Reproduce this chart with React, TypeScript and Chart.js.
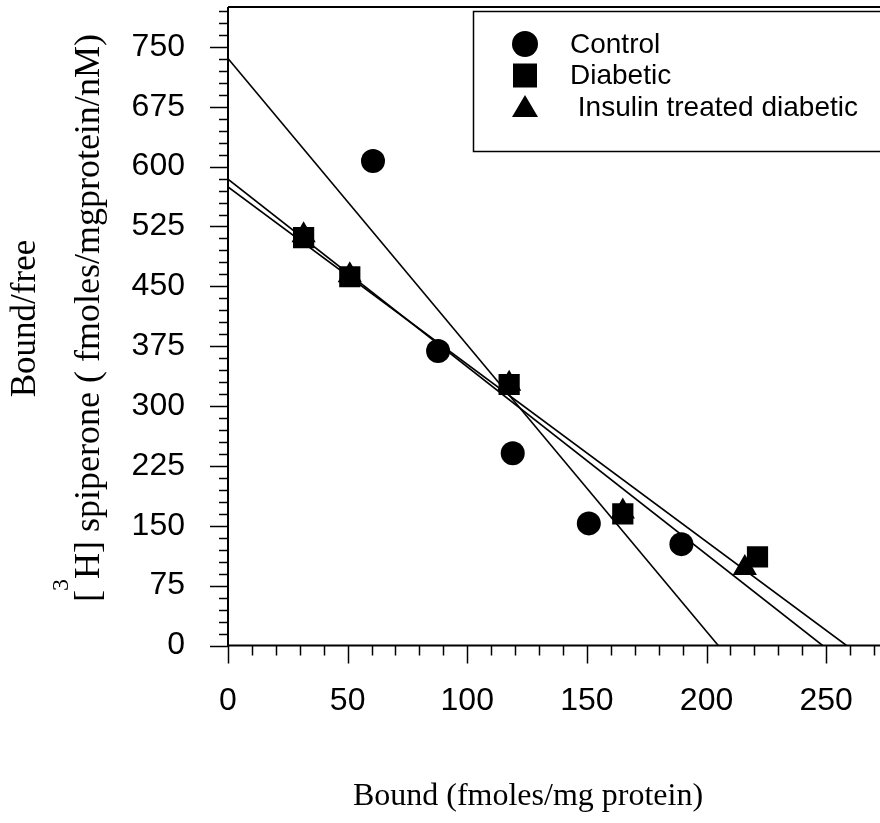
import React, { useEffect, useRef } from "react";
import { Chart, registerables } from "chart.js";

Chart.register(...registerables);

// ---- data ----
const seriesLabels = ["Control", "Diabetic", " Insulin treated diabetic"];

const controlX = [60.6, 87.8, 119, 150.8, 189.5];
const controlY = [607, 369, 241, 153, 127];

const diabeticX = [31.6, 50.9, 117.5, 165, 221.3];
const diabeticY = [511, 462, 327, 165, 111];

const insulinX = [31.6, 50.9, 117.5, 165, 216];
const insulinY = [514, 464, 328, 168, 97];

// regression lines (endpoints on the axes)
const controlFitX = [0, 204.9];
const controlFitY = [735.5, 0];
const diabeticFitX = [0, 258.5];
const diabeticFitY = [574.6, 0];
const insulinFitX = [0, 248.5];
const insulinFitY = [584.3, 0];

const xMajorTicks = [0, 50, 100, 150, 200, 250];
const yMajorTicks = [0, 75, 150, 225, 300, 375, 450, 525, 600, 675, 750];
const xMinorStep = 10;
const yMinorStep = 15;
const xMax = 272.5;
const yMax = 800;

const xTitle = "Bound (fmoles/mg protein)";
const yTitleLine1 = "Bound/free";
const yTitleBracket = "[";
const yTitleSup = "3";
const yTitleRest = "H] spiperone ( fmoles/mgprotein/nM)";

const toPts = (xs: number[], ys: number[]) => xs.map((x, i) => ({ x, y: ys[i] }));

const SANS = "'Liberation Sans', Arial, Helvetica, sans-serif";
const SERIF = "'Liberation Serif', 'Times New Roman', Times, serif";

const framePlugin = {
  id: "framePlugin",
  afterDraw(chart: any) {
    const { ctx, chartArea, scales } = chart;
    const xs = scales.x;
    const ys = scales.y;
    const left = chartArea.left;
    const bottom = chartArea.bottom;
    const top = chartArea.top;
    const right = chartArea.right;
    ctx.save();
    ctx.strokeStyle = "#000";
    ctx.lineWidth = 2;
    ctx.beginPath();
    ctx.moveTo(left, top);
    ctx.lineTo(left, bottom);
    ctx.lineTo(right + 2, bottom);
    ctx.moveTo(left, top);
    ctx.lineTo(right + 2, top);
    ctx.stroke();

    ctx.lineWidth = 1.5;
    ctx.beginPath();
    for (let v = 0; v <= yMax; v += yMinorStep) {
      const py = Math.round(ys.getPixelForValue(v)) + 0.5;
      const len = v % 75 === 0 ? 18 : 9;
      ctx.moveTo(left - len, py);
      ctx.lineTo(left, py);
    }
    for (let v = 0; v <= xMax; v += xMinorStep) {
      const px = Math.round(xs.getPixelForValue(v)) + 0.5;
      const len = v % 50 === 0 ? 18 : 10;
      ctx.moveTo(px, bottom);
      ctx.lineTo(px, bottom + len);
    }
    ctx.stroke();

    // legend box
    ctx.lineWidth = 1.5;
    ctx.strokeRect(473.5, 11.5, 420, 140);
    const rowY = [44, 75.5, 107];
    const mx = 525;
    ctx.fillStyle = "#000";
    chart.data.datasets.slice(0, 3).forEach((ds: any, i: number) => {
      const y = rowY[i];
      ctx.beginPath();
      if (ds.pointStyle === "circle") {
        ctx.arc(mx, y, 13, 0, Math.PI * 2);
      } else if (ds.pointStyle === "rect") {
        ctx.rect(mx - 12, y - 12, 24, 24);
      } else {
        ctx.moveTo(mx, y - 12);
        ctx.lineTo(mx + 13, y + 10);
        ctx.lineTo(mx - 13, y + 10);
        ctx.closePath();
      }
      ctx.fill();
      ctx.font = `28px ${SANS}`;
      ctx.textBaseline = "middle";
      ctx.textAlign = "left";
      ctx.fillText(ds.label, 570, y + 1);
    });

    // x title
    ctx.font = `32px ${SERIF}`;
    ctx.textAlign = "center";
    ctx.textBaseline = "alphabetic";
    ctx.fillText(xTitle, 528, 805);

    // y title line 1
    ctx.save();
    ctx.translate(35, 318.5);
    ctx.rotate(-Math.PI / 2);
    ctx.font = `35px ${SERIF}`;
    ctx.textAlign = "center";
    ctx.fillText(yTitleLine1, 0, 0);
    ctx.restore();

    // y title line 2 with superscript
    ctx.save();
    ctx.translate(99, 602);
    ctx.rotate(-Math.PI / 2);
    ctx.textAlign = "left";
    ctx.font = `36px ${SERIF}`;
    ctx.fillText(yTitleBracket, 0, 0);
    const w1 = ctx.measureText(yTitleBracket).width;
    ctx.font = `24px ${SERIF}`;
    ctx.fillText(yTitleSup, w1 - 1, -31);
    const w2 = ctx.measureText(yTitleSup).width;
    ctx.font = `36px ${SERIF}`;
    ctx.fillText(yTitleRest, w1 + w2 - 1, 0);
    ctx.restore();

    ctx.restore();
  },
};

const zeroPad = (s: any) => {
  s.paddingTop = 0;
  s.paddingBottom = 0;
  s.paddingLeft = 0;
  s.paddingRight = 0;
};

export default function App() {
  const ref = useRef<HTMLCanvasElement | null>(null);
  useEffect(() => {
    if (!ref.current) return;
    const lineDs = (xs: number[], ys: number[]) => ({
      type: "scatter" as const,
      data: toPts(xs, ys),
      showLine: true,
      borderColor: "#000",
      borderWidth: 1.6,
      pointRadius: 0,
      fill: false,
    });
    const chart = new Chart(ref.current, {
      type: "scatter",
      data: {
        datasets: [
          {
            label: seriesLabels[0],
            data: toPts(controlX, controlY),
            pointStyle: "circle",
            pointRadius: 12,
            backgroundColor: "#000",
            borderColor: "#000",
            borderWidth: 0,
          },
          {
            label: seriesLabels[1],
            data: toPts(diabeticX, diabeticY),
            pointStyle: "rect",
            pointRadius: 15,
            backgroundColor: "#000",
            borderColor: "#000",
            borderWidth: 0,
          },
          {
            label: seriesLabels[2],
            data: toPts(insulinX, insulinY),
            pointStyle: "triangle",
            pointRadius: 14,
            backgroundColor: "#000",
            borderColor: "#000",
            borderWidth: 0,
          },
          lineDs(controlFitX, controlFitY),
          lineDs(diabeticFitX, diabeticFitY),
          lineDs(insulinFitX, insulinFitY),
        ] as any,
      },
      options: {
        responsive: false,
        animation: false,
        devicePixelRatio: 1,
        layout: { autoPadding: false, padding: { top: 7, left: 0, right: 0, bottom: 0 } },
        plugins: {
          legend: { display: false },
          tooltip: { enabled: false },
        },
        scales: {
          x: {
            type: "linear",
            min: 0,
            max: xMax,
            grid: { display: false, drawTicks: false },
            border: { display: false },
            afterBuildTicks: (s: any) => {
              s.ticks = xMajorTicks.map((v) => ({ value: v }));
            },
            afterFit: (s: any) => {
              s.height = 177.5;
              zeroPad(s);
            },
            ticks: {
              color: "#000",
              padding: 36,
              maxRotation: 0,
              font: { family: SANS, size: 32 },
              callback: (v: any) => String(v),
            },
          },
          y: {
            type: "linear",
            min: 0,
            max: yMax,
            grid: { display: false, drawTicks: false },
            border: { display: false },
            afterBuildTicks: (s: any) => {
              s.ticks = yMajorTicks.map((v) => ({ value: v }));
            },
            afterFit: (s: any) => {
              s.width = 228;
              zeroPad(s);
            },
            ticks: {
              color: "#000",
              padding: 43,
              font: { family: SANS, size: 32 },
              callback: (v: any) => String(v),
            },
          },
        },
      } as any,
      plugins: [framePlugin],
    });
    return () => chart.destroy();
  }, []);
  return (
    <div style={{ position: "absolute", left: 0, top: 0, width: 880, height: 823, background: "#fff" }}>
      <canvas ref={ref} width={880} height={823} style={{ display: "block" }} />
    </div>
  );
}
